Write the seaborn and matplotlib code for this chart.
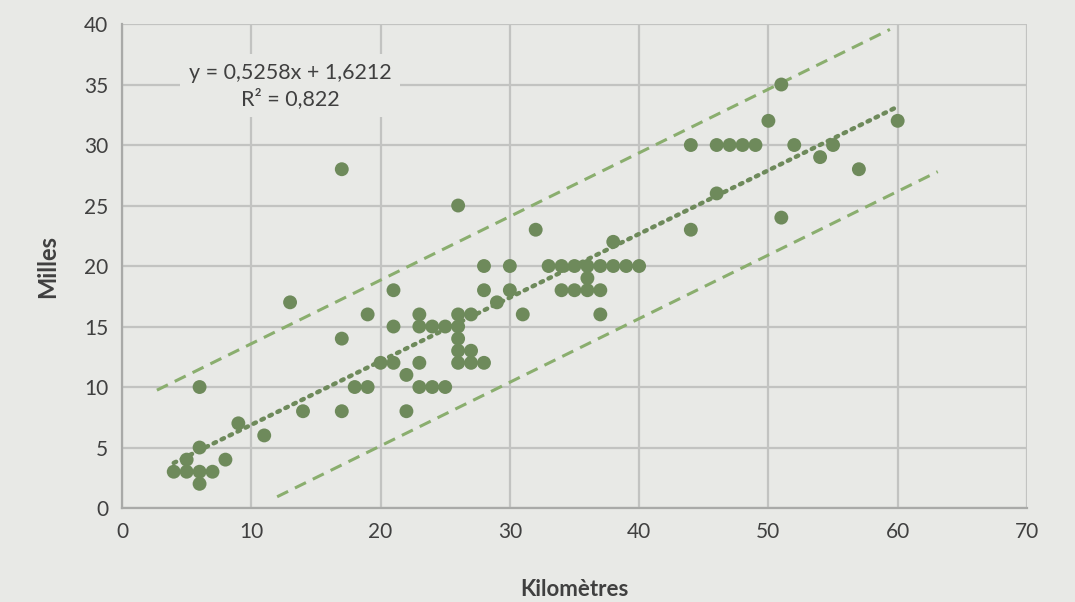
import numpy as np
import pandas as pd
import matplotlib
matplotlib.use("Agg")
import matplotlib.pyplot as plt
import seaborn as sns

# -------------------------------
# Data
# -------------------------------
km = [4, 5, 5, 6, 6, 6, 6, 7, 8, 9, 11,
      13, 14, 17, 17, 17, 18, 19, 19, 20, 21, 21, 21, 22, 22,
      23, 23, 23, 23, 24, 24, 25, 25, 26, 26, 26, 26, 26, 26,
      27, 27, 27, 28, 28, 28, 29, 30, 30, 31, 32,
      33, 34, 34, 35, 35, 36, 36, 36, 37, 37, 37, 38, 38, 39, 40,
      44, 44, 46, 46, 47, 48, 49, 50, 51, 51, 52, 54, 55, 57, 60]
miles = [3, 3, 4, 2, 3, 5, 10, 3, 4, 7, 6,
         17, 8, 28, 14, 8, 10, 16, 10, 12, 18, 15, 12, 11, 8,
         16, 15, 12, 10, 15, 10, 15, 10, 25, 16, 15, 14, 13, 12,
         16, 13, 12, 20, 18, 12, 17, 20, 18, 16, 23,
         20, 20, 18, 20, 18, 20, 19, 18, 20, 18, 16, 22, 20, 20, 20,
         30, 23, 30, 26, 30, 30, 30, 32, 35, 24, 30, 29, 30, 28, 32]

# Excel trend line
slope = 0.5258
intercept = 1.6212
r2 = 0.822
trend_x = [4, 60]

# dashed bands (offset from trend, x extent)
upper_offset = 6.7
upper_x = [2.7, 59.4]
lower_offset = -7.0
lower_x = [12.0, 63.1]

df = pd.DataFrame({"km": km, "miles": miles})

# -------------------------------
# Style
# -------------------------------
bg = "#E8E9E6"
grid_col = "#C2C3C1"
point_col = "#6E8A5B"
dash_col = "#8AAE6E"
text_col = "#404040"

sns.set_style("white")
plt.rcParams["font.family"] = ["Lato", "DejaVu Sans"]

fig = plt.figure(figsize=(10.75, 6.02), dpi=100, facecolor=bg)
ax = fig.add_axes([0.1135, 0.1561, 0.8418, 0.8040])
ax.set_facecolor(bg)

# bands + trend
for xs, off in [(upper_x, upper_offset), (lower_x, lower_offset)]:
    xs = np.array(xs)
    ax.plot(xs, slope * xs + intercept + off, color=dash_col, lw=2.2,
            ls=(0, (4, 2.5)), zorder=2, clip_on=False)

tx = np.array(trend_x)
ax.plot(tx, slope * tx + intercept, color=point_col, lw=3.2,
        ls=(0, (0.6, 1.4)), dash_capstyle="round", zorder=3)

sns.scatterplot(data=df, x="km", y="miles", ax=ax, color=point_col,
                s=100, edgecolor="none", zorder=4)

ax.set_xlim(0, 70)
ax.set_ylim(0, 40)
ax.set_xticks(range(0, 71, 10))
ax.set_yticks(range(0, 41, 5))
ax.grid(True, color=grid_col, lw=1.6)
ax.set_axisbelow(True)
for side in ["top", "right"]:
    ax.spines[side].set_visible(False)
for side in ["left", "bottom"]:
    ax.spines[side].set_color("#A9AAA8")
    ax.spines[side].set_linewidth(1.6)

ax.tick_params(length=0, labelsize=15, labelcolor=text_col, pad=10)
ax.set_xlabel("Kilomètres", fontsize=16, fontweight="bold", color=text_col, labelpad=27)
ax.set_ylabel("Milles", fontsize=17, fontweight="bold", color=text_col, labelpad=18)

eq = f"y = {slope}x + {intercept}".replace(".", ",")
r2_txt = f"R² = {r2}".replace(".", ",")
ax.text(13.0, 34.9, eq + "\n" + r2_txt, ha="center", va="center",
        fontsize=15.5, color=text_col, linespacing=1.3, zorder=5,
        bbox=dict(facecolor=bg, edgecolor="none", pad=6))

fig.savefig("out.png", dpi=100, facecolor=bg)
